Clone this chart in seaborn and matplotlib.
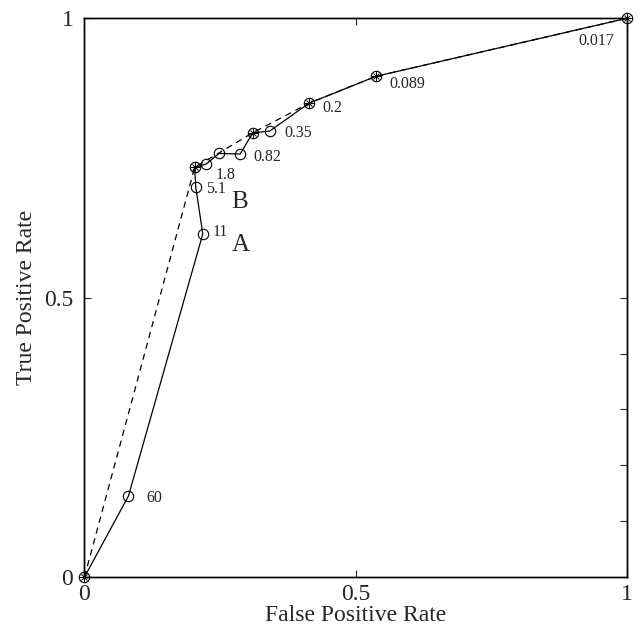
import matplotlib
matplotlib.use("Agg")
import matplotlib.pyplot as plt
import seaborn as sns
import pandas as pd

# ROC curve of the classifier (solid), in threshold order
fpr = [0.0, 0.081, 0.218, 0.205, 0.203, 0.224, 0.248, 0.287, 0.310, 0.341, 0.414, 0.537, 1.0]
tpr = [0.0, 0.145, 0.614, 0.698, 0.733, 0.739, 0.758, 0.757, 0.795, 0.798, 0.848, 0.896, 1.0]
# which points lie on the convex hull (starred markers)
on_hull = [1, 0, 0, 0, 1, 0, 0, 0, 1, 0, 1, 1, 1]
# threshold labels
thr_labels = ["", "60", "11", "5.1", "", "1.8", "", "0.82", "", "0.35", "0.2", "0.089", "0.017"]
label_dx = [0, 0.033, 0.018, 0.019, 0, 0.018, 0, 0.024, 0, 0.028, 0.025, 0.025, -0.09]
label_dy = [0, -0.003, 0.004, -0.004, 0, -0.019, 0, -0.006, 0, -0.004, -0.008, -0.014, -0.04]
# special points
special_names = ["A", "B"]
special_x = [0.271, 0.271]
special_y = [0.594, 0.672]

df = pd.DataFrame({"fpr": fpr, "tpr": tpr, "hull": on_hull})
hull = df[df["hull"] == 1]

sns.set_style("white")
plt.rcParams["font.family"] = ["Liberation Serif", "DejaVu Serif"]

fig = plt.figure(figsize=(6.4, 6.35), dpi=100)
ax = fig.add_axes([0.132, 0.0913, 0.848, 0.880])

sns.lineplot(data=hull, x="fpr", y="tpr", sort=False, estimator=None,
             color="black", lw=0.9, linestyle=(0, (5, 4)), ax=ax)
sns.lineplot(data=df, x="fpr", y="tpr", sort=False, estimator=None,
             color="black", lw=0.9, ax=ax)
ax.plot(df["fpr"], df["tpr"], "o", mfc="none", mec="black", ms=7.5, mew=0.8,
        linestyle="none", clip_on=False)
ax.plot(hull["fpr"], hull["tpr"], "+", color="black", ms=6.5, mew=0.7,
        linestyle="none", clip_on=False)
ax.plot(hull["fpr"], hull["tpr"], "x", color="black", ms=5, mew=0.7,
        linestyle="none", clip_on=False)

for x, y, t, dx, dy in zip(fpr, tpr, thr_labels, label_dx, label_dy):
    if t:
        ax.text(x + dx, y + dy, t, fontsize=11.5, ha="left", va="center")
for n, x, y in zip(special_names, special_x, special_y):
    ax.text(x, y, n, fontsize=18, ha="left", va="center")

ax.set_xlim(0, 1)
ax.set_ylim(0, 1)
ax.set_xticks([0, 0.5, 1])
ax.set_yticks([0, 0.5, 1])
ax.set_xticklabels(["0", "0.5", "1"])
ax.set_yticklabels(["0", "0.5", "1"])
ax.tick_params(axis="both", direction="in", length=5, width=0.8, labelsize=17,
               top=True, left=True, bottom=True, right=False)
ax.tick_params(axis="x", pad=5)
ax.tick_params(axis="y", pad=8)
ax.set_xlabel("False Positive Rate", fontsize=17, labelpad=0)
ax.set_ylabel("True Positive Rate", fontsize=17, labelpad=5)

# extra inward ticks on the right spine
ax2 = ax.twinx()
ax2.set_ylim(0, 1)
ax2.set_yticks([0.1, 0.2, 0.3, 0.4, 0.5])
ax2.tick_params(axis="y", direction="in", length=5, width=0.8, labelright=False, right=True)
ax2.grid(False)

for a in (ax, ax2):
    for s in a.spines.values():
        s.set_color("black")
        s.set_linewidth(1.0)

fig.savefig("out.png", dpi=100)
